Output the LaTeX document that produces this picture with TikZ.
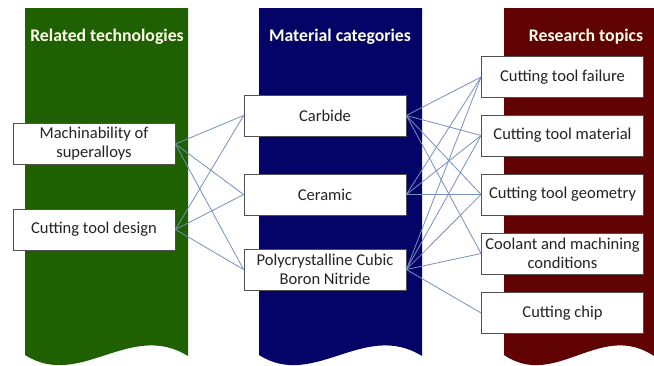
\documentclass[tikz,border=0pt]{standalone}
\usepackage{fontspec}
\setmainfont{Carlito}
\usetikzlibrary{calc}
\definecolor{bandgreen}{RGB}{30,96,2}
\definecolor{bandblue}{RGB}{4,4,104}
\definecolor{bandred}{RGB}{96,2,2}
\definecolor{linkblue}{RGB}{118,142,194}
\definecolor{boxgray}{RGB}{80,80,80}
\definecolor{txtgray}{RGB}{35,35,35}
\tikzset{
    band/.style={draw=none},
    heading/.style={text=white!92!yellow, font=\fontsize{13.3}{15}\selectfont\bfseries},
    topic/.style={draw=boxgray, line width=0.6pt, fill=white, text=txtgray,
        minimum width=121.5pt, minimum height=30.8pt, inner sep=1pt, align=center,
        font=\fontsize{12.4}{14.2}\selectfont},
    link/.style={linkblue, line width=0.6pt}
}
\begin{document}
\begin{tikzpicture}[x=0.75pt, y=-0.75pt]
    \useasboundingbox (0,0) rectangle (654,365);
    % three banners with a wavy lower edge
    \fill[band, bandgreen] (25,8) -- (188,8) -- (188,356)
        .. controls (130,320) and (80,390) .. (25,355) -- cycle;
    \fill[band, bandblue] (259,8) -- (422,8) -- (422,356)
        .. controls (364,320) and (314,390) .. (259,355) -- cycle;
    \fill[band, bandred] (504,8) -- (654,8) -- (654,356)
        .. controls (600,320) and (556,390) .. (504,355) -- cycle;

    \node[heading] (h1) at (107,37) {Related technologies};
    \node[heading] (h2) at (340,37) {Material categories};
    \node[heading] (h3) at (586,37) {Research topics};

    % related technologies
    \node[topic] (mach) at (94,144) {Machinability of\\superalloys};
    \node[topic] (design) at (94,229.5) {Cutting tool design};
    % material categories
    \node[topic] (carb) at (325,115.5) {Carbide};
    \node[topic] (cer) at (325,194.5) {Ceramic};
    \node[topic] (pcbn) at (325,269.5) {Polycrystalline Cubic\\Boron Nitride};
    % research topics
    \node[topic] (fail) at (562.5,77) {Cutting tool failure};
    \node[topic] (mat) at (562.5,135.5) {Cutting tool material};
    \node[topic] (geo) at (562.5,194.5) {Cutting tool geometry};
    \node[topic] (cool) at (562.5,253.5) {Coolant and machining\\conditions};
    \node[topic] (chip) at (562.5,313) {Cutting chip};

    \draw[link] (mach.east) -- (carb.west); \draw[link] (mach.east) -- (cer.west);
    \draw[link] (mach.east) -- (pcbn.west);
    \draw[link] (design.east) -- (carb.west); \draw[link] (design.east) -- (cer.west);
    \draw[link] (design.east) -- (pcbn.west);

    \draw[link] (carb.east) -- (fail.west); \draw[link] (carb.east) -- (mat.west);
    \draw[link] (carb.east) -- (geo.west); \draw[link] (carb.east) -- (cool.west);
    \draw[link] (cer.east) -- (fail.west); \draw[link] (cer.east) -- (mat.west);
    \draw[link] (cer.east) -- (geo.west);
    \draw[link] (pcbn.east) -- (fail.west); \draw[link] (pcbn.east) -- (mat.west);
    \draw[link] (pcbn.east) -- (geo.west); \draw[link] (pcbn.east) -- (cool.west);
    \draw[link] (pcbn.east) -- (chip.west);
\end{tikzpicture}
\end{document}
